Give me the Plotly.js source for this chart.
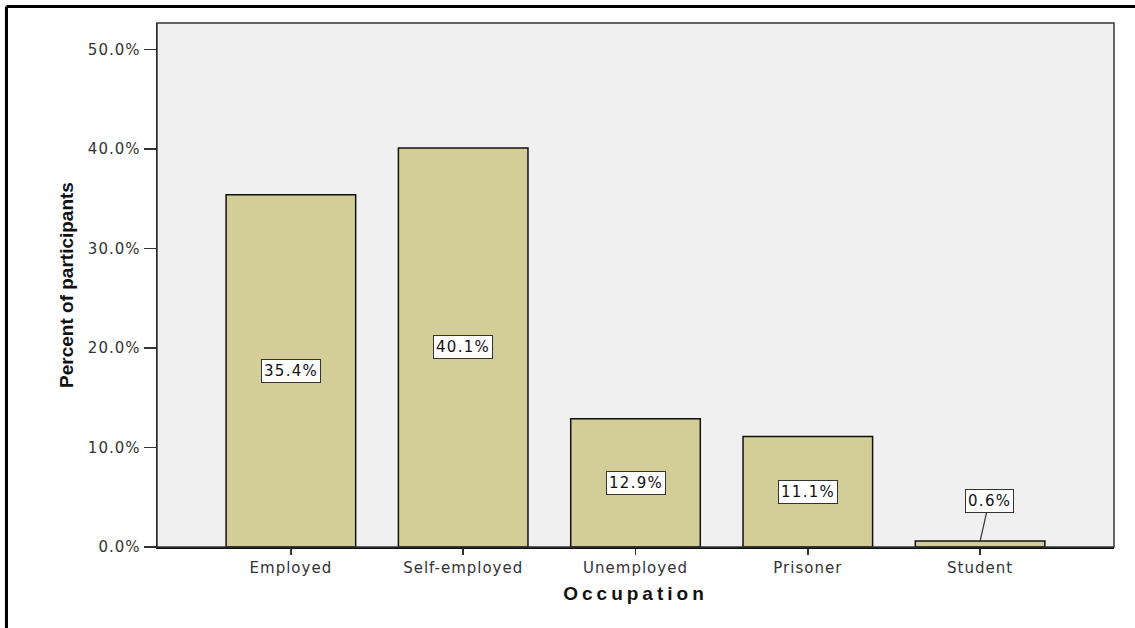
<!DOCTYPE html>
<html>
<head>
<meta charset="utf-8">
<script src="https://cdn.plot.ly/plotly-3.0.1.min.js"></script>
<style>
  html, body { margin: 0; padding: 0; background: #ffffff; }
  #chart { width: 1135px; height: 628px; }
  .xtick text, .ytick text { letter-spacing: 1px; }
  .xtitle { letter-spacing: 4px; }
  .annotation-text { letter-spacing: 1.3px; }
</style>
</head>
<body>
<div id="chart"></div>
<script>
const categories = ["Employed", "Self-employed", "Unemployed", "Prisoner", "Student"];
const percents = [35.4, 40.1, 12.9, 11.1, 0.6];
const labelTexts = ["35.4%", "40.1%", "12.9%", "11.1%", "0.6%"];
const yTickVals = [0, 10, 20, 30, 40, 50];
const yTickText = ["0.0%", "10.0%", "20.0%", "30.0%", "40.0%", "50.0%"];

const trace = {
  type: "bar",
  x: categories,
  y: percents,
  marker: { color: "#d3ce97", line: { color: "#111111", width: 1.5 } },
  hoverinfo: "x+y"
};

const annotations = categories.map((c, i) => {
  const small = percents[i] < 2;
  const a = {
    x: c, y: small ? percents[i] : percents[i] / 2,
    xref: "x", yref: "y",
    text: labelTexts[i],
    font: { family: "DejaVu Sans, sans-serif", size: 15, color: "#111111" },
    bgcolor: "#ffffff",
    bordercolor: "#333333",
    borderwidth: 1,
    borderpad: 2,
    showarrow: small
  };
  if (small) {
    a.ax = 9; a.ay = -40;
    a.arrowhead = 0; a.arrowwidth = 1.2; a.arrowcolor = "#333333";
    a.standoff = 0;
  }
  return a;
});

const shapes = [
  { type: "rect", xref: "paper", yref: "paper", x0: 0, x1: 1, y0: 0, y1: 1,
    line: { color: "#333333", width: 1.5 }, layer: "above" },
  { type: "line", xref: "paper", yref: "paper", x0: -0.1573, x1: 1.05, y0: 1.0315, y1: 1.0315,
    line: { color: "#000000", width: 3 } },
  { type: "line", xref: "paper", yref: "paper", x0: -0.1573, x1: -0.1573, y0: -0.2, y1: 1.0315,
    line: { color: "#000000", width: 3 } }
];

const layout = {
  width: 1135, height: 628,
  margin: { l: 157, r: 21, t: 23, b: 81, pad: 0 },
  paper_bgcolor: "#ffffff",
  plot_bgcolor: "#f0f0f0",
  bargap: 0.248,
  showlegend: false,
  font: { family: "DejaVu Sans, sans-serif", size: 15, color: "#333333" },
  xaxis: {
    type: "category",
    range: [-0.777, 4.777],
    showline: true, linecolor: "#111111", linewidth: 1.5,
    ticks: "outside", ticklen: 6, tickwidth: 1.5, tickcolor: "#333333",
    tickfont: { family: "DejaVu Sans, sans-serif", size: 15, color: "#333333" },
    showgrid: false, zeroline: false,
    title: { text: "Occupation", standoff: 11,
      font: { family: "Liberation Sans, Arial, sans-serif", size: 19, color: "#111111", weight: "bold" } }
  },
  yaxis: {
    range: [0, 52.66],
    tickvals: yTickVals, ticktext: yTickText,
    showline: true, linecolor: "#111111", linewidth: 1.5,
    ticks: "outside", ticklen: 12, tickwidth: 1.5, tickcolor: "#333333",
    ticklabelstandoff: 0,
    tickfont: { family: "DejaVu Sans, sans-serif", size: 15, color: "#333333" },
    showgrid: false, zeroline: false,
    title: { text: "Percent of participants", standoff: 9,
      font: { family: "Liberation Sans Narrow, Arial Narrow, sans-serif", size: 19, color: "#111111", weight: "bold" } }
  },
  annotations: annotations,
  shapes: shapes
};

Plotly.newPlot("chart", [trace], layout, { displayModeBar: false, staticPlot: true });
</script>
</body>
</html>
